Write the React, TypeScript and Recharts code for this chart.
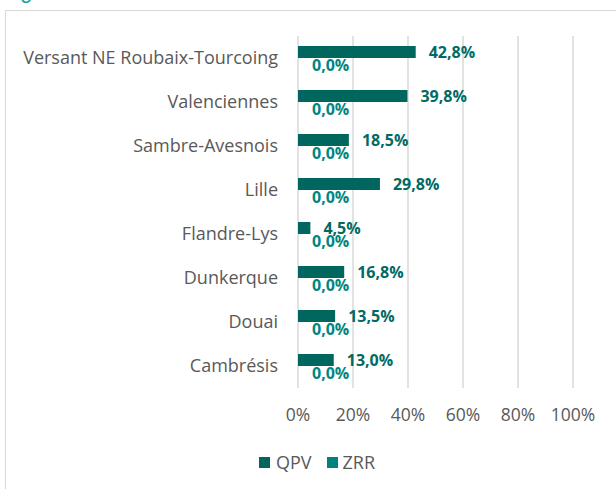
import { Bar, BarChart, CartesianGrid, LabelList, XAxis, YAxis } from "recharts"

// zones, top to bottom
const zones = [
  "Versant NE Roubaix-Tourcoing",
  "Valenciennes",
  "Sambre-Avesnois",
  "Lille",
  "Flandre-Lys",
  "Dunkerque",
  "Douai",
  "Cambrésis",
]
const qpv = [42.8, 39.8, 18.5, 29.8, 4.5, 16.8, 13.5, 13.0]
const zrr = [0, 0, 0, 0, 0, 0, 0, 0]
const xTicks = [0, 20, 40, 60, 80, 100]

const data = zones.map((zone, i) => ({ zone, qpv: qpv[i], zrr: zrr[i] }))

const FONT = "'Open Sans', sans-serif"
const QPV_COLOR = "#00665E"
const ZRR_COLOR = "#00827D"
const GREY = "#595959"

const fmt = (v: any) => `${Number(v).toFixed(1).replace(".", ",")}%`

// zero-width ZRR bars draw no label, so put it just under the QPV bar,
// where the ZRR bar sits
const ZrrLabel = (props: any) => {
  const { viewBox, value } = props
  if (!viewBox) return null
  const { x, y, height } = viewBox
  return (
    <text
      x={x + 14}
      y={y + height * 1.5 + 1}
      dominantBaseline="central"
      fill="#00857F"
      fontSize={16}
      fontWeight={700}
      fontFamily={FONT}
    >
      {fmt(value)}
    </text>
  )
}

export default function App() {
  return (
    <div
      style={{
        position: "absolute",
        left: 0,
        top: 0,
        width: 616,
        height: 489,
        overflow: "hidden",
        background: "#fff",
        fontFamily: FONT,
      }}
    >
      <div
        style={{
          position: "absolute",
          left: 8,
          top: -17,
          fontSize: 16,
          lineHeight: "20px",
          fontWeight: 700,
          color: "#1FA49E",
          whiteSpace: "nowrap",
        }}
      >
        Figure 6.6 :
      </div>
      <div
        style={{
          position: "absolute",
          left: 5,
          top: 10,
          width: 640,
          height: 500,
          borderLeft: "1.5px solid #d9d9d9",
          borderTop: "1.5px solid #d9d9d9",
        }}
      />
      <div style={{ position: "absolute", left: 0, top: 0 }}>
        <BarChart
          width={616}
          height={489}
          data={data}
          layout="vertical"
          barSize={12}
          barGap={0}
          margin={{ top: 36, right: 43, left: 0, bottom: 71 }}
        >
          <CartesianGrid horizontal={false} stroke="#d9d9d9" strokeWidth={1.5} />
          <XAxis
            type="number"
            domain={[0, 100]}
            ticks={xTicks}
            tickFormatter={(v) => `${v}%`}
            axisLine={false}
            tickLine={false}
            tickSize={0}
            tickMargin={21}
            height={30}
            interval={0}
            tick={{ fill: GREY, fontSize: 17.5, fontFamily: FONT }}
          />
          <YAxis
            type="category"
            dataKey="zone"
            width={298}
            axisLine={false}
            tickLine={false}
            tickSize={0}
            tickMargin={20}
            interval={0}
            tick={{ fill: GREY, fontSize: 18, fontFamily: FONT }}
          />
          <Bar dataKey="qpv" name="QPV" fill={QPV_COLOR} isAnimationActive={false}>
            <LabelList
              dataKey="qpv"
              position="right"
              offset={13}
              formatter={fmt}
              style={{ fill: "#006A63", fontSize: 16, fontWeight: 700, fontFamily: FONT }}
            />
            <LabelList dataKey="zrr" content={ZrrLabel} />
          </Bar>
          <Bar dataKey="zrr" name="ZRR" fill={ZRR_COLOR} isAnimationActive={false} />
        </BarChart>
      </div>
      <div
        style={{
          position: "absolute",
          top: 450,
          left: 259,
          display: "flex",
          alignItems: "center",
          fontSize: 18,
          color: GREY,
          lineHeight: "24px",
        }}
      >
        <span style={{ display: "inline-block", width: 11, height: 11, background: QPV_COLOR, marginRight: 6 }} />
        <span style={{ marginRight: 15 }}>QPV</span>
        <span style={{ display: "inline-block", width: 11, height: 11, background: ZRR_COLOR, marginRight: 5 }} />
        <span>ZRR</span>
      </div>
    </div>
  )
}
